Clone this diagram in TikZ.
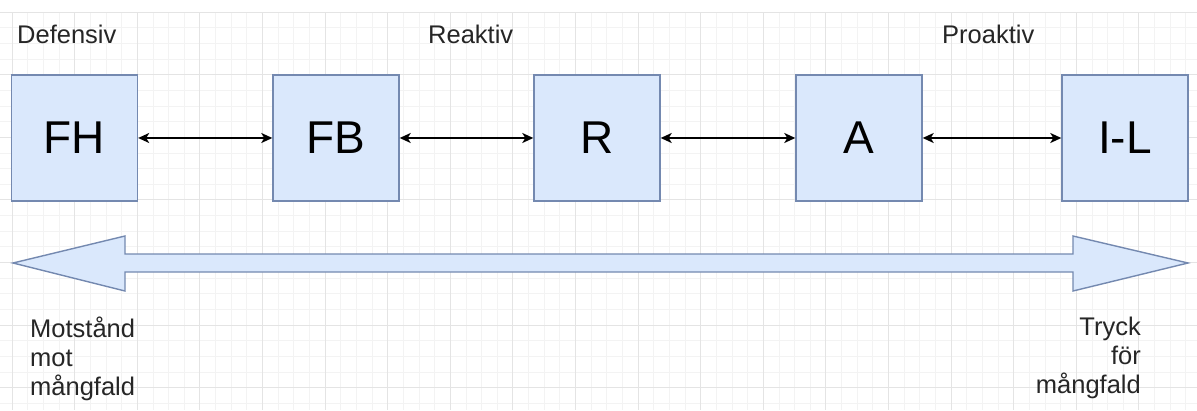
\documentclass[tikz,border=0pt]{standalone}
\usepackage{fontspec}
\setmainfont{Liberation Sans}
\usetikzlibrary{arrows.meta}
\definecolor{boxfill}{HTML}{DAE8FC}
\definecolor{boxline}{HTML}{7489B0}
\definecolor{gridmajor}{HTML}{E4E4E4}
\definecolor{gridminor}{HTML}{F3F3F3}
\tikzset{
  stage/.style={draw=boxline, fill=boxfill, line width=1.4pt, minimum width=126pt, minimum height=126pt, inner sep=0pt, font=\fontsize{46}{50}\selectfont},
  conn/.style={line width=1.8pt, {Stealth[length=11pt,width=10pt,inset=3pt]}-{Stealth[length=11pt,width=10pt,inset=3pt]}},
  label/.style={inner sep=0pt, font=\fontsize{25.5}{29}\selectfont, text=black!85},
  bigarrow/.style={draw=boxline, fill=boxfill, line width=1.4pt, line join=miter}
}
\begin{document}
\begin{tikzpicture}[x=1pt,y=-1pt]
\useasboundingbox (0,0) rectangle (1197,410);
\fill[white] (0,0) rectangle (1197,410);
% grid
\begin{scope}
\clip (0,12) rectangle (1197,410);
\foreach \i in {-1,...,76} {
  \draw[gridminor, line width=0.7pt] ({12+15.65*\i},12) -- ({12+15.65*\i},410);
}
\foreach \i in {0,...,26} {
  \draw[gridminor, line width=0.7pt] (0,{12+15.65*\i}) -- (1197,{12+15.65*\i});
}
\foreach \i in {0,...,19} {
  \draw[gridmajor, line width=1pt] ({12+62.6*\i},12) -- ({12+62.6*\i},410);
}
\foreach \i in {0,...,6} {
  \draw[gridmajor, line width=1pt] (0,{12+62.6*\i}) -- (1197,{12+62.6*\i});
}
\end{scope}
% headings
\node[label, anchor=base west] (def) at (17,43) {Defensiv};
\node[label, anchor=base west] (rea) at (428,43) {Reaktiv};
\node[label, anchor=base west] (pro) at (942,43) {Proaktiv};
% stages
\node[stage] (FH) at (74.5,138) {FH};
\node[stage] (FB) at (336,138) {FB};
\node[stage] (R)  at (597,138) {R};
\node[stage] (A)  at (859,138) {A};
\node[stage] (IL) at (1125,138) {I-L};
\draw[conn] (FH) -- (FB);
\draw[conn] (FB) -- (R);
\draw[conn] (R) -- (A);
\draw[conn] (A) -- (IL);
% big double arrow
\draw[bigarrow] (13,263) -- (125,236) -- (125,254) -- (1073,254) -- (1073,236) -- (1188,263)
  -- (1073,291) -- (1073,272) -- (125,272) -- (125,291) -- cycle;
% bottom labels
\node[label, anchor=north west, align=left] (mot) at (30,317) {Motstånd\\mot\\mångfald};
\node[label, anchor=north east, align=right] (tryck) at (1141,317) {Tryck\\för\\mångfald};
\end{tikzpicture}
\end{document}
